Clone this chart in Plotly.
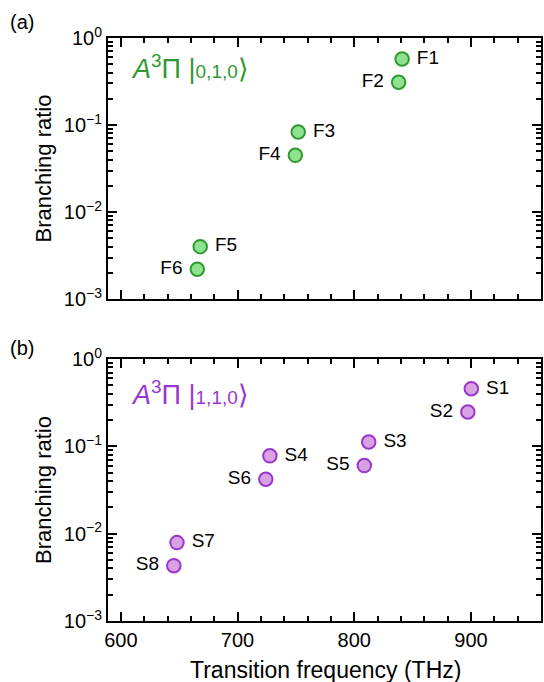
import plotly.graph_objects as go

# Panel (a): A3Pi |0,1,0>
f_labels = ["F1", "F2", "F3", "F4", "F5", "F6"]
f_freq = [841, 838, 752, 749.5, 668, 665.5]
f_ratio = [0.574, 0.31, 0.083, 0.0448, 0.0040, 0.0022]

# Panel (b): A3Pi |1,1,0>
s_labels = ["S1", "S2", "S3", "S4", "S5", "S6", "S7", "S8"]
s_freq = [900.3, 897.3, 812.4, 727.7, 808.6, 724.2, 648.1, 645.4]
s_ratio = [0.456, 0.247, 0.112, 0.0778, 0.0602, 0.042, 0.0079, 0.0043]

x_range = [589, 960]
y_tickvals = [1e-3, 1e-2, 1e-1, 1]
y_ticktext = ["10<sup>−3</sup>", "10<sup>−2</sup>", "10<sup>−1</sup>", "10<sup>0</sup>"]
x_tickvals = [600, 700, 800, 900]

FONT = "Liberation Sans, Arial, sans-serif"
GREEN = "#2f9a2f"
GREEN_FILL = "#8fe28f"
PURPLE = "#9a36cf"
PURPLE_FILL = "#d8a2e2"

R, L = "middle right", "middle left"
f_textpos = [R, L, R, L, R, L]
s_textpos = [R, L, R, R, L, L, R, L]

fig = go.Figure()
fig.add_trace(go.Scatter(
    x=f_freq, y=f_ratio, mode="markers+text", text=[" " + t + " " for t in f_labels],
    textposition=f_textpos, textfont=dict(family=FONT, size=19, color="black"),
    marker=dict(size=13.5, color=GREEN_FILL, line=dict(color=GREEN, width=2)),
    xaxis="x", yaxis="y", showlegend=False, cliponaxis=False))
fig.add_trace(go.Scatter(
    x=s_freq, y=s_ratio, mode="markers+text", text=[" " + t + " " for t in s_labels],
    textposition=s_textpos, textfont=dict(family=FONT, size=19, color="black"),
    marker=dict(size=13.5, color=PURPLE_FILL, line=dict(color=PURPLE, width=2)),
    xaxis="x2", yaxis="y2", showlegend=False, cliponaxis=False))

minor_x = dict(ticks="inside", ticklen=5, tickcolor="black", tickwidth=1.5, dtick=20, showgrid=False)
minor_y_vals = [m * 10 ** e for e in range(-3, 0) for m in range(2, 10)]
minor_y = dict(ticks="inside", ticklen=5, tickcolor="black", tickwidth=1.5,
               tickmode="array", tickvals=minor_y_vals, showgrid=False)

xcommon = dict(range=x_range, showline=True, linecolor="black", linewidth=2, mirror="ticks",
               ticks="inside", ticklen=9, tickwidth=1.5, tickcolor="black",
               tickmode="array", tickvals=x_tickvals, showgrid=False, zeroline=False,
               minor=minor_x, tickfont=dict(family=FONT, size=20, color="black"),
               automargin=False)
ycommon = dict(type="log", range=[-3, 0], showline=True, linecolor="black", linewidth=2,
               mirror="ticks", ticks="inside", ticklen=9, tickwidth=1.5, tickcolor="black",
               tickmode="array", tickvals=y_tickvals, ticktext=y_ticktext, showgrid=False,
               zeroline=False, minor=minor_y, tickfont=dict(family=FONT, size=20, color="black"),
               title=dict(text="Branching ratio", font=dict(family=FONT, size=22, color="black"),
                          standoff=6))

fig.update_layout(
    width=544, height=682,
    margin=dict(l=108, r=1, t=38, b=61),
    paper_bgcolor="white", plot_bgcolor="white",
    font=dict(family=FONT, color="black"),
    xaxis=dict(xcommon, domain=[0, 1], anchor="y", showticklabels=False),
    yaxis=dict(ycommon, domain=[0.5523, 1], anchor="x"),
    xaxis2=dict(xcommon, domain=[0, 1], anchor="y2"),
    yaxis2=dict(ycommon, domain=[0, 0.4494], anchor="x2"),
)

fig.add_annotation(xref="paper", yref="paper", x=(327 - 108) / 435, y=(621 - 670) / 583,
                   xanchor="center", yanchor="middle", showarrow=False,
                   text="Transition frequency (THz)",
                   font=dict(family=FONT, size=23, color="black"))
fig.add_annotation(xref="x domain", yref="y domain", x=0.048, y=0.89, xanchor="left",
                   yanchor="middle", showarrow=False,
                   text="<i>A</i><sup>3</sup>Π |<span style='font-size:19px'>0,1,0</span>⟩",
                   font=dict(family=FONT, size=27, color=GREEN))
fig.add_annotation(xref="x2 domain", yref="y2 domain", x=0.048, y=0.87, xanchor="left",
                   yanchor="middle", showarrow=False,
                   text="<i>A</i><sup>3</sup>Π |<span style='font-size:19px'>1,1,0</span>⟩",
                   font=dict(family=FONT, size=27, color=PURPLE))
fig.add_annotation(xref="paper", yref="paper", x=(22 - 108) / 435, y=(621 - 22) / 583,
                   xanchor="center", yanchor="middle", showarrow=False, text="(a)",
                   font=dict(family=FONT, size=20, color="black"))
fig.add_annotation(xref="paper", yref="paper", x=(22 - 108) / 435, y=(621 - 348) / 583,
                   xanchor="center", yanchor="middle", showarrow=False, text="(b)",
                   font=dict(family=FONT, size=20, color="black"))

fig.write_html("out.html", config={"displayModeBar": False},
               post_script="document.body.style.margin='0';")
